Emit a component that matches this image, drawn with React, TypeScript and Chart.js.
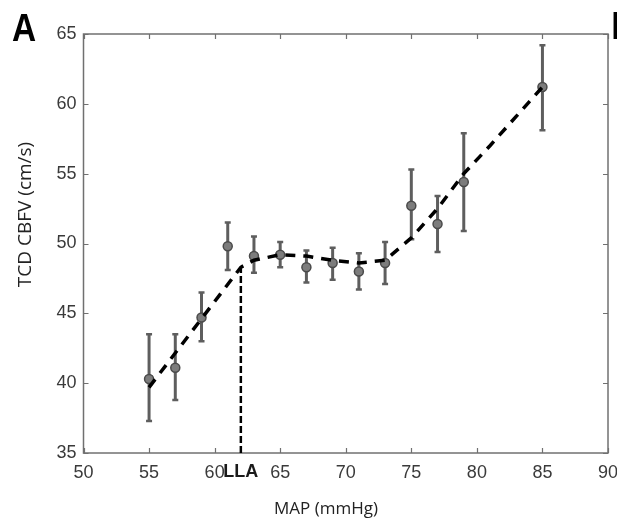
import React, { useEffect, useRef } from "react";
import { Chart, registerables } from "chart.js";

Chart.register(...registerables);

// MAP (mmHg) bins
const mapValues = [55, 57, 59, 61, 63, 65, 67, 69, 71, 73, 75, 77, 79, 85];
// TCD CBFV mean (cm/s)
const cbfvMean = [40.3, 41.1, 44.7, 49.8, 49.1, 49.2, 48.3, 48.6, 48.0, 48.6, 52.7, 51.4, 54.4, 61.2];
// error bar upper / lower ends
const cbfvUpper = [43.5, 43.5, 46.5, 51.5, 50.5, 50.1, 49.5, 49.7, 49.3, 50.1, 55.3, 53.4, 57.9, 64.2];
const cbfvLower = [37.3, 38.8, 43.0, 48.1, 47.9, 48.3, 47.2, 47.4, 46.7, 47.1, 50.3, 49.4, 50.9, 58.1];
// fitted dashed curve
const fitMap = [55, 62, 63, 65, 67, 69, 71, 73, 75, 77, 79, 81, 83, 85];
const fitCbfv = [39.7, 48.3, 48.8, 49.2, 49.1, 48.8, 48.6, 48.8, 50.4, 52.5, 55.0, 57.0, 59.1, 61.2];
// lower limit of autoregulation
const llaMap = 62;
const llaCbfv = 48.3;
const llaLabel = "LLA";
// axes
const xTicks = [50, 55, 60, 65, 70, 75, 80, 85, 90];
const yTicks = [35, 40, 45, 50, 55, 60, 65];
const xTitle = "MAP (mmHg)";
const yTitle = "TCD CBFV (cm/s)";
const panelLabel = "A";
const nextPanelLabel = "B";

const SANS = "'Liberation Sans', Arial, sans-serif";
const TITLE_FONT = "'Open Sans', 'Noto Sans', sans-serif";

const decorPlugin = {
  id: "decor",
  beforeDatasetsDraw(chart: any) {
    const { ctx, chartArea, scales } = chart;
    const { left, right, top, bottom } = chartArea;
    const xs = scales.x;
    const ys = scales.y;
    ctx.save();
    // frame
    ctx.strokeStyle = "#707070";
    ctx.lineWidth = 1.5;
    ctx.strokeRect(left, top, right - left, bottom - top);
    // inward ticks
    ctx.lineWidth = 1.2;
    const tl = 5;
    ctx.beginPath();
    xTicks.forEach((v) => {
      const px = Math.round(xs.getPixelForValue(v)) + 0.5;
      ctx.moveTo(px, bottom);
      ctx.lineTo(px, bottom - tl);
      ctx.moveTo(px, top);
      ctx.lineTo(px, top + tl);
    });
    yTicks.forEach((v) => {
      const py = Math.round(ys.getPixelForValue(v)) + 0.5;
      ctx.moveTo(left, py);
      ctx.lineTo(left + tl, py);
      ctx.moveTo(right, py);
      ctx.lineTo(right - tl, py);
    });
    ctx.stroke();
    // error bars
    ctx.strokeStyle = "#5e5e5e";
    ctx.lineCap = "butt";
    mapValues.forEach((m, i) => {
      const px = xs.getPixelForValue(m);
      const pHi = ys.getPixelForValue(cbfvUpper[i]);
      const pLo = ys.getPixelForValue(cbfvLower[i]);
      ctx.lineWidth = 3;
      ctx.beginPath();
      ctx.moveTo(px, pHi);
      ctx.lineTo(px, pLo);
      ctx.stroke();
      ctx.lineWidth = 2.5;
      ctx.beginPath();
      ctx.moveTo(px - 3, pHi);
      ctx.lineTo(px + 3, pHi);
      ctx.moveTo(px - 3, pLo);
      ctx.lineTo(px + 3, pLo);
      ctx.stroke();
    });
    ctx.restore();
  },
  afterDraw(chart: any) {
    const { ctx, scales } = chart;
    const xs = scales.x;
    ctx.save();
    ctx.fillStyle = "#000";
    ctx.textAlign = "left";
    ctx.textBaseline = "alphabetic";
    ctx.font = `bold 38px ${SANS}`;
    ctx.save();
    ctx.translate(12, 41);
    ctx.scale(0.88, 1.04);
    ctx.fillText(panelLabel, 0, 0);
    ctx.restore();
    ctx.fillText(nextPanelLabel, 611, 39);
    // LLA label
    ctx.fillStyle = "#1a1a1a";
    ctx.textAlign = "center";
    ctx.font = `bold 18px ${SANS}`;
    ctx.fillText(llaLabel, xs.getPixelForValue(llaMap), 477);
    // axis titles
    ctx.fillStyle = "#222";
    ctx.font = `17px ${TITLE_FONT}`;
    ctx.fillText(xTitle, 326, 514);
    ctx.translate(25.5, 214.5);
    ctx.rotate(-Math.PI / 2);
    ctx.textBaseline = "middle";
    ctx.font = `19px ${TITLE_FONT}`;
    ctx.fillText(yTitle, 0, 0);
    ctx.restore();
  },
};

export default function App() {
  const ref = useRef<HTMLCanvasElement | null>(null);
  useEffect(() => {
    document.body.style.margin = "0";
    const canvas = ref.current;
    if (!canvas) return;
    const tickFont = { family: SANS, size: 18 };
    const chart = new Chart(canvas, {
      type: "scatter",
      data: {
        datasets: [
          {
            label: "LLA",
            data: [
              { x: llaMap, y: yTicks[0] },
              { x: llaMap, y: llaCbfv },
            ],
            showLine: true,
            borderColor: "#000",
            borderWidth: 2.5,
            borderDash: [7, 3],
            pointRadius: 0,
            order: 0,
          },
          {
            label: "fit",
            data: fitMap.map((x, i) => ({ x, y: fitCbfv[i] })),
            showLine: true,
            borderColor: "#000",
            borderWidth: 3.5,
            borderDash: [10, 8],
            pointRadius: 0,
            order: 1,
          },
          {
            label: "mean",
            data: mapValues.map((x, i) => ({ x, y: cbfvMean[i] })),
            showLine: false,
            pointRadius: 4.5,
            pointBackgroundColor: "#7c7c7c",
            pointBorderColor: "#4a4a4a",
            pointBorderWidth: 1.5,
            order: 2,
          },
        ],
      },
      options: {
        animation: false,
        responsive: false,
        layout: { padding: { top: 34, right: 9, left: 0, bottom: 0 } },
        plugins: { legend: { display: false }, tooltip: { enabled: false } },
        scales: {
          x: {
            type: "linear",
            min: xTicks[0],
            max: xTicks[xTicks.length - 1],
            ticks: { stepSize: 5, font: tickFont, color: "#3a3a3a", padding: 9 },
            grid: { display: false, drawTicks: false },
            border: { display: false },
            afterFit(s: any) {
              s.height = 68;
              s.paddingLeft = 0;
              s.paddingRight = 0;
            },
          },
          y: {
            type: "linear",
            min: yTicks[0],
            max: yTicks[yTicks.length - 1],
            ticks: { stepSize: 5, font: tickFont, color: "#3a3a3a", padding: 7 },
            grid: { display: false, drawTicks: false },
            border: { display: false },
            afterFit(s: any) {
              s.width = 83.5;
              s.paddingTop = 0;
              s.paddingBottom = 0;
            },
          },
        },
      },
      plugins: [decorPlugin],
    } as any);
    return () => chart.destroy();
  }, []);
  return (
    <div style={{ position: "fixed", left: 0, top: 0, width: 617, height: 521 }}>
      <canvas ref={ref} width={617} height={521} style={{ width: 617, height: 521, display: "block" }} />
    </div>
  );
}
